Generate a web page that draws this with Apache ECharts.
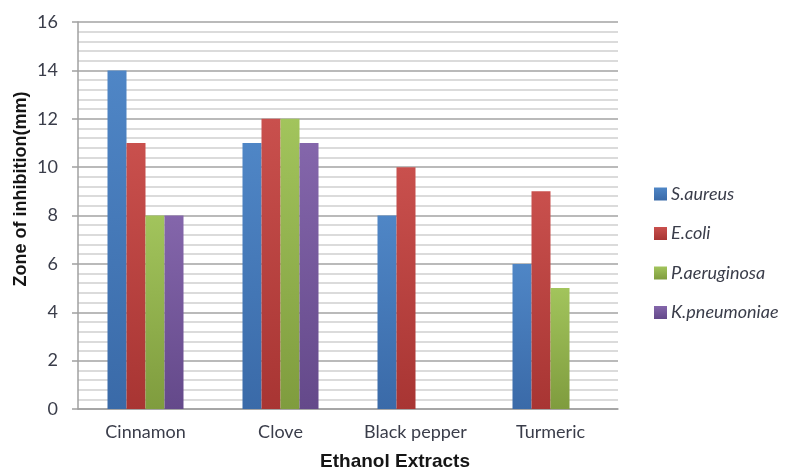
<!DOCTYPE html>
<html>
<head>
<meta charset="utf-8">
<script src="https://cdn.jsdelivr.net/npm/echarts@6/dist/echarts.min.js"></script>
<style>
  html, body { margin: 0; padding: 0; background: #fff; }
  #chart { width: 788px; height: 470px; }
</style>
</head>
<body>
<div id="chart"></div>
<script>
// Extracts on the category axis
const categories = ['Cinnamon', 'Clove', 'Black pepper', 'Turmeric'];

// Zone of inhibition (mm) per organism
const sAureus = [14, 11, 8, 6];
const eColi = [11, 12, 10, 9];
const pAeruginosa = [8, 12, null, 5];
const kPneumoniae = [8, 11, null, null];

const seriesNames = ['S.aureus', 'E.coli', 'P.aeruginosa', 'K.pneumoniae'];
const seriesData = [sAureus, eColi, pAeruginosa, kPneumoniae];

// Value-axis ticks
const yMin = 0, yMax = 16, yStep = 2;

const palette = [
  ['#4f86c6', '#3a6aa8'],
  ['#c9504d', '#a83533'],
  ['#a2c45c', '#7f9c3e'],
  ['#8466ab', '#64498a']
];

const chart = echarts.init(document.getElementById('chart'), null, { renderer: 'canvas' });

const font = 'Lato, "Open Sans", sans-serif';
const labelColor = '#3a3d4a';

chart.setOption({
  animation: false,
  backgroundColor: '#ffffff',
  grid: { left: 78, right: 170, top: 22, bottom: 61, containLabel: false },
  legend: {
    orient: 'vertical',
    left: 649,
    top: 180,
    itemWidth: 13,
    itemHeight: 13,
    itemGap: 21.5,
    icon: 'rect',
    textStyle: { fontFamily: font, fontStyle: 'italic', fontSize: 18, color: labelColor, padding: [0, 0, 0, -1] },
    data: seriesNames
  },
  xAxis: {
    type: 'category',
    data: categories,
    axisLine: { show: true, lineStyle: { color: '#a0a0a0', width: 1.5 } },
    axisTick: { show: false },
    axisLabel: { fontFamily: font, fontSize: 18, color: labelColor, margin: 14 }
  },
  yAxis: {
    type: 'value',
    min: yMin,
    max: yMax,
    interval: yStep,
    axisLine: { show: true, lineStyle: { color: '#a0a0a0', width: 1.5 } },
    axisTick: { show: true, length: 6, lineStyle: { color: '#a0a0a0', width: 1.5 } },
    axisLabel: { fontFamily: font, fontSize: 18, color: labelColor, margin: 20 },
    splitLine: { show: true, lineStyle: { color: '#a3a3a3', width: 1.5 } },
    minorTick: { show: false, splitNumber: 5 },
    minorSplitLine: { show: true, lineStyle: { color: '#cfcfcf', width: 1.5 } }
  },
  graphic: [
    {
      type: 'text',
      x: 395,
      y: 462,
      style: { text: 'Ethanol Extracts', fontFamily: 'Liberation Sans, Arial, sans-serif', fontWeight: 'bold', fontSize: 19, fill: '#151515', align: 'center', verticalAlign: 'middle' }
    },
    {
      type: 'text',
      x: 21,
      y: 189,
      rotation: Math.PI / 2,
      style: { text: 'Zone of inhibition(mm)', fontFamily: 'Liberation Sans, Arial, sans-serif', fontWeight: 'bold', fontSize: 18, fill: '#151515', align: 'center', verticalAlign: 'middle' }
    }
  ],
  series: seriesNames.map((name, i) => ({
    name: name,
    type: 'bar',
    data: seriesData[i],
    barWidth: 19,
    barGap: '0%',
    itemStyle: {
      color: new echarts.graphic.LinearGradient(0, 0, 0, 1, [
        { offset: 0, color: palette[i][0] },
        { offset: 1, color: palette[i][1] }
      ])
    }
  }))
});
</script>
</body>
</html>
